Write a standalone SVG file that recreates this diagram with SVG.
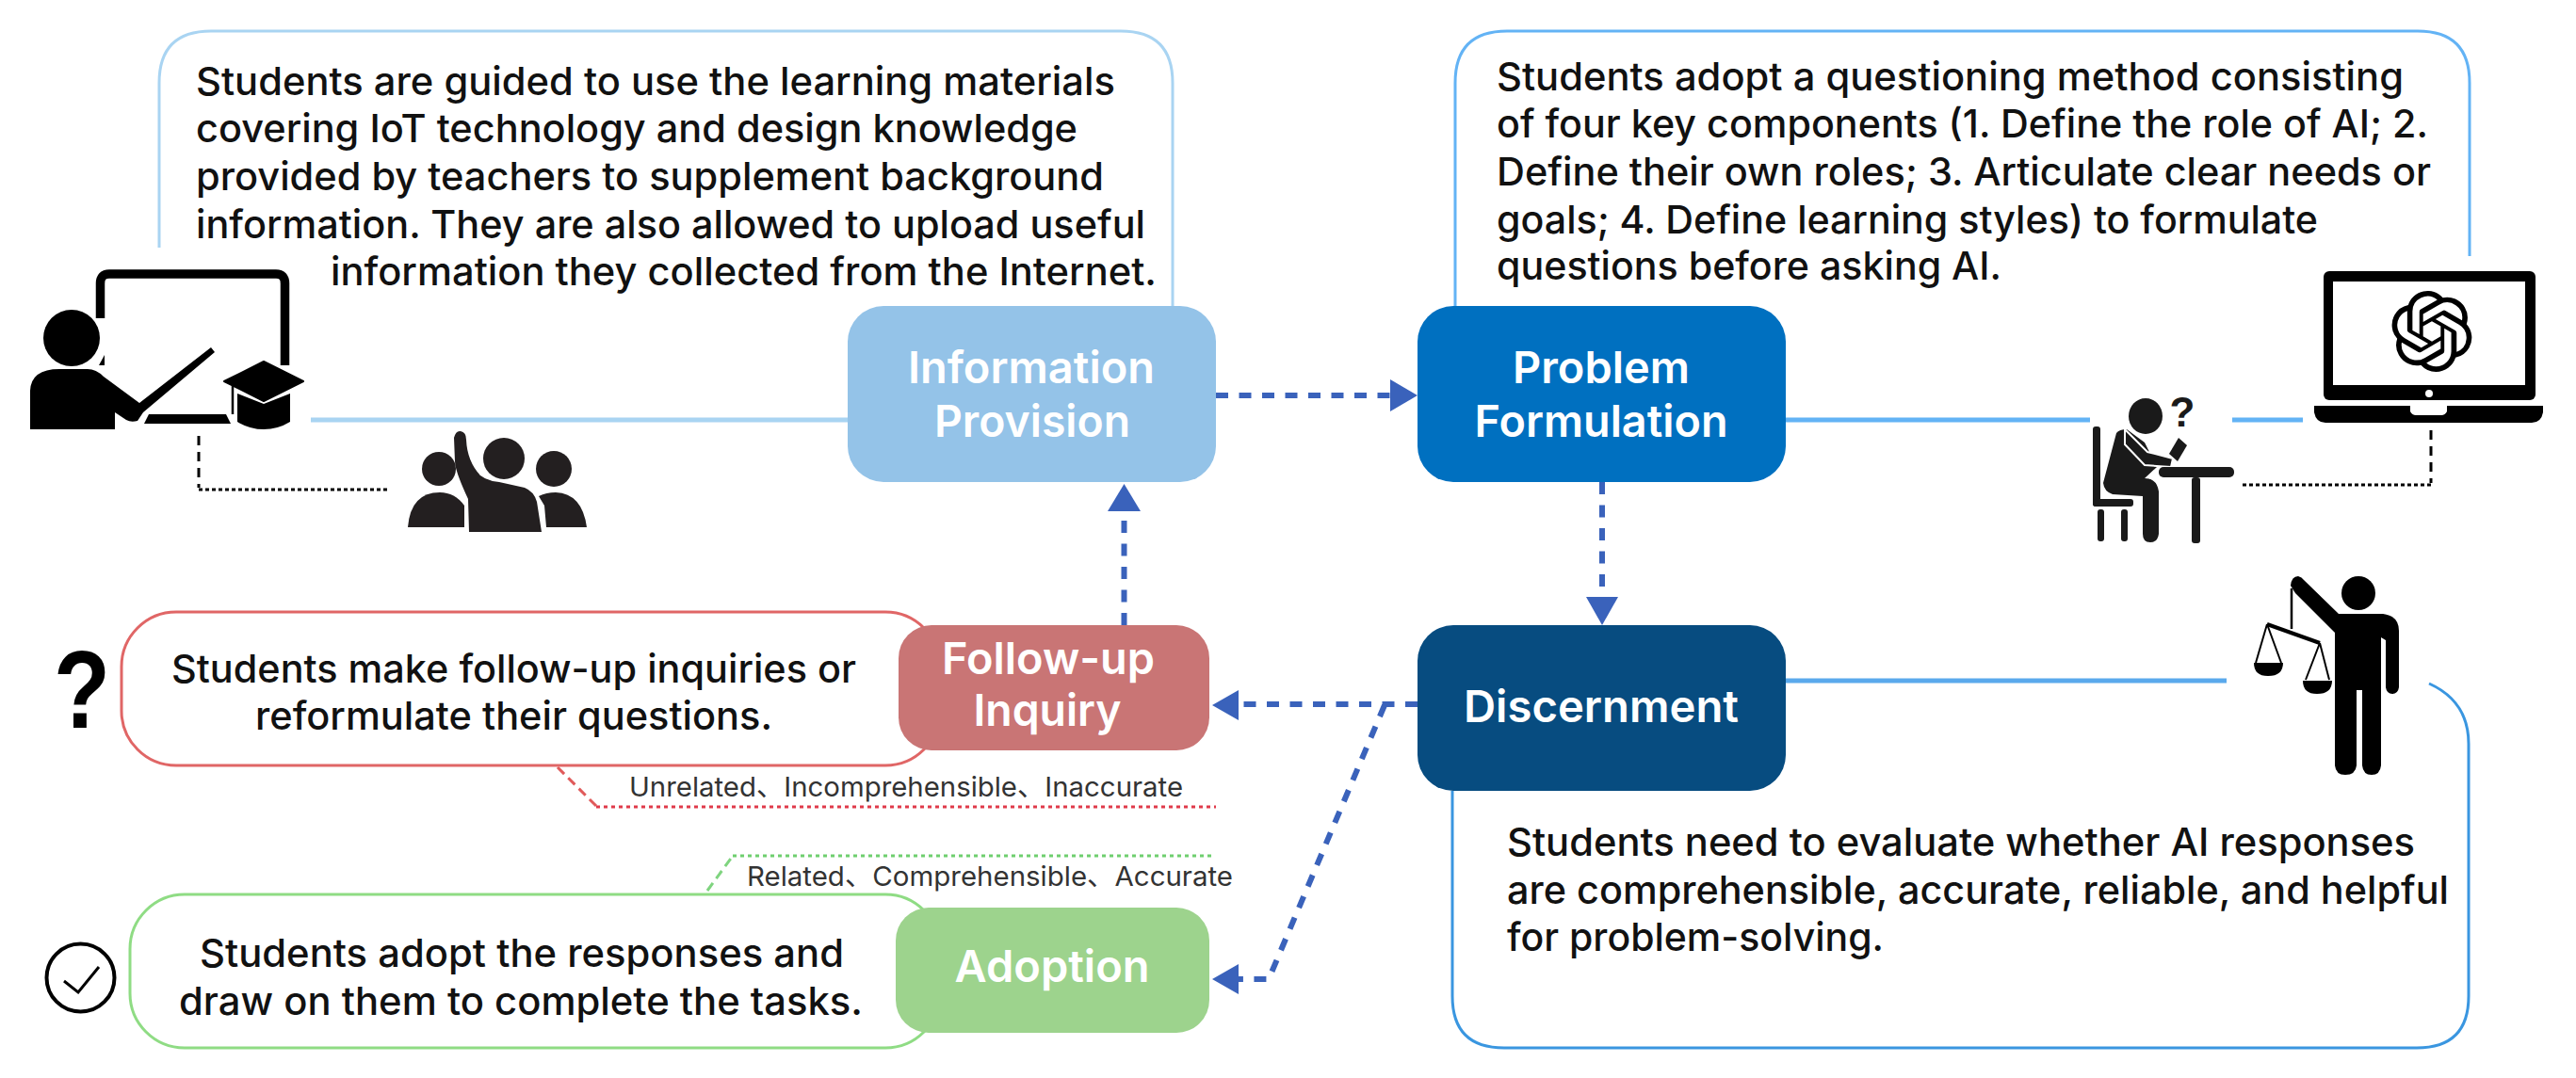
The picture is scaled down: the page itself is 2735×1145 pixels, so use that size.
<svg xmlns="http://www.w3.org/2000/svg" width="2735" height="1145" viewBox="0 0 2735 1145">
<style>
text{font-family:Inter,"Noto Sans CJK SC",sans-serif}
.b{font-size:41px;fill:#111;font-weight:500}
.n{font-size:47px;fill:#fff;font-weight:600;text-anchor:middle}
.s{font-size:29px;fill:#333}
.box{fill:none;stroke-width:3}
.lnk{fill:none;stroke-width:5}
.flow{fill:none;stroke:#3a62bb;stroke-width:6;stroke-dasharray:13 11.500}
.head{fill:#3a62bb}
.k{fill:#000}
.blk{fill:none;stroke:#000;stroke-width:3}
.dk{fill:#1a1a1a}
</style>
<rect width="2735" height="1145" fill="#fff"/>
<g id="connectors">
<path class="flow" d="M1291 420H1478"/><polygon class="head" points="1505,420 1476,403 1476,437"/>
<path class="flow" d="M1193.500 664V540"/><polygon class="head" points="1193.500,514 1176,543 1211,543"/>
<path class="flow" d="M1701 512V636"/><polygon class="head" points="1701,664 1684,634 1718,634"/>
<path class="flow" d="M1505 748H1313"/><polygon class="head" points="1287,749 1315,733 1315,765"/>
<path class="flow" d="M1470 749L1347 1040H1313"/><polygon class="head" points="1287,1040 1315,1024 1315,1056"/>
<path class="blk" style="stroke-dasharray:10 7" d="M211 463V518"/><path class="blk" style="stroke-dasharray:4 3" d="M211 520H413"/>
<path class="blk" style="stroke-dasharray:10 7" d="M2581 457V513"/><path class="blk" style="stroke-dasharray:4 3" d="M2581 515H2379"/>
<path fill="none" stroke="#e05a5a" stroke-width="3" stroke-dasharray="10 6" d="M592 815L633 856"/><path fill="none" stroke="#e03a4a" stroke-width="3" stroke-dasharray="4 4" d="M633 857H1291"/>
<path fill="none" stroke="#7fd47f" stroke-width="3" stroke-dasharray="10 6" d="M751 946L778 909"/><path fill="none" stroke="#6fcf6f" stroke-width="3" stroke-dasharray="4 4" d="M778 909H1289"/>
</g>
<g id="info-callout">
<path class="box" stroke="#a9d4f2" d="M169 263V88Q169 33 224 33H1190Q1245 33 1245 88V325"/>
<path class="lnk" stroke="#a9d4f2" d="M330 446H900"/>
<text class="b" x="208" y="101" textLength="976" lengthAdjust="spacingAndGlyphs">Students are guided to use the learning materials</text>
<text class="b" x="208" y="151" textLength="936" lengthAdjust="spacingAndGlyphs">covering IoT technology and design knowledge</text>
<text class="b" x="208" y="202" textLength="964" lengthAdjust="spacingAndGlyphs">provided by teachers to supplement background</text>
<text class="b" x="208" y="253" textLength="1008" lengthAdjust="spacingAndGlyphs">information. They are also allowed to upload useful</text>
<text class="b" x="351" y="303" textLength="877" lengthAdjust="spacingAndGlyphs">information they collected from the Internet.</text>
</g>
<g id="information-provision">
<rect x="900" y="325" width="391" height="187" rx="38" fill="#94c3e8"/>
<text class="n" x="1095" y="407" textLength="262" lengthAdjust="spacingAndGlyphs">Information</text>
<text class="n" x="1096" y="464" textLength="208" lengthAdjust="spacingAndGlyphs">Provision</text>
</g>
<g id="problem-callout">
<path class="box" stroke="#63b3f5" d="M1545 325V88Q1545 33 1600 33H2567Q2622 33 2622 88V272"/>
<path class="lnk" stroke="#63b3f5" d="M1896 446H2219M2370 446H2445"/>
<text class="b" x="1589" y="96" textLength="963" lengthAdjust="spacingAndGlyphs">Students adopt a questioning method consisting</text>
<text class="b" x="1589" y="146" textLength="989" lengthAdjust="spacingAndGlyphs">of four key components (1. Define the role of AI; 2.</text>
<text class="b" x="1589" y="197" textLength="992" lengthAdjust="spacingAndGlyphs">Define their own roles; 3. Articulate clear needs or</text>
<text class="b" x="1589" y="248" textLength="872" lengthAdjust="spacingAndGlyphs">goals; 4. Define learning styles) to formulate</text>
<text class="b" x="1589" y="297" textLength="536" lengthAdjust="spacingAndGlyphs">questions before asking AI.</text>
</g>
<g id="problem-formulation">
<rect x="1505" y="325" width="391" height="187" rx="38" fill="#0070c0"/>
<text class="n" x="1700" y="407" textLength="188" lengthAdjust="spacingAndGlyphs">Problem</text>
<text class="n" x="1700" y="464" textLength="269" lengthAdjust="spacingAndGlyphs">Formulation</text>
</g>
<g id="discernment-callout">
<path class="box" stroke="#3a96e0" d="M1542 840V1058Q1542 1113 1597 1113H2566Q2621 1113 2621 1058V790Q2621 745 2579 726"/>
<path class="lnk" stroke="#5aa9ec" d="M1896 723H2364"/>
<text class="b" x="1600" y="909" textLength="964" lengthAdjust="spacingAndGlyphs">Students need to evaluate whether AI responses</text>
<text class="b" x="1600" y="960" textLength="1000" lengthAdjust="spacingAndGlyphs">are comprehensible, accurate, reliable, and helpful</text>
<text class="b" x="1600" y="1010" textLength="400" lengthAdjust="spacingAndGlyphs">for problem-solving.</text>
</g>
<g id="discernment">
<rect x="1505" y="664" width="391" height="176" rx="38" fill="#074c80"/>
<text class="n" x="1700" y="767" textLength="292" lengthAdjust="spacingAndGlyphs">Discernment</text>
</g>
<g id="followup-callout">
<rect class="box" x="129" y="650" width="869" height="163" rx="58" fill="#fff" stroke="#e06666"/>
<text class="b" x="182" y="725" textLength="727" lengthAdjust="spacingAndGlyphs">Students make follow-up inquiries or</text>
<text class="b" x="271" y="775" textLength="549" lengthAdjust="spacingAndGlyphs">reformulate their questions.</text>
</g>
<g id="follow-up-inquiry">
<rect x="954" y="664" width="330" height="133" rx="35" fill="#c97575"/>
<text class="n" x="1113" y="716" textLength="226" lengthAdjust="spacingAndGlyphs">Follow-up</text>
<text class="n" x="1112" y="771" textLength="157" lengthAdjust="spacingAndGlyphs">Inquiry</text>
</g>
<g id="adoption-callout">
<rect class="box" x="138" y="950" width="860" height="163" rx="58" fill="#fff" stroke="#8fdc84"/>
<text class="b" x="212" y="1027" textLength="684" lengthAdjust="spacingAndGlyphs">Students adopt the responses and</text>
<text class="b" x="190" y="1078" textLength="726" lengthAdjust="spacingAndGlyphs">draw on them to complete the tasks.</text>
</g>
<g id="adoption">
<rect x="951" y="964" width="333" height="133" rx="35" fill="#9dd38d"/>
<text class="n" x="1117" y="1043" textLength="207" lengthAdjust="spacingAndGlyphs">Adoption</text>
</g>
<g id="labels">
<text class="s" x="668" y="846" textLength="588" lengthAdjust="spacingAndGlyphs">Unrelated、Incomprehensible、Inaccurate</text>
<text class="s" x="793" y="941" textLength="516" lengthAdjust="spacingAndGlyphs">Related、Comprehensible、Accurate</text>
</g>
<g id="teacher-icon">
<path fill="none" stroke="#000" stroke-width="9.500" d="M106.500 338V301Q106.500 291 116 291H293Q302.500 291 302.500 301V388"/>
<polygon class="k" points="105,388 111,377 111,388"/>
<circle class="k" cx="76" cy="359" r="30"/>
<path class="k" d="M32 456V415Q33 392 63 392H93Q102 392 110 400L148 428L224 369L228 374L152 438L146 447Q139 449 134 446L122 438V456Z"/>
<polygon class="k" points="158,440 240,440 245,450 153,450"/>
<path class="k" d="M252 418L280 429L308 418V448Q295 456 280 456Q265 456 252 448Z"/>
<polygon class="k" stroke="#000" stroke-width="2" stroke-linejoin="round" points="280,384 322,405 280,426 238,405"/>
<path fill="none" stroke="#000" stroke-width="2.500" d="M247 410V440"/>
</g>
<g id="students-icon" fill="#231f20">
<circle cx="466" cy="498" r="18"/>
<path d="M433 560Q436 523 467 523Q483 523 493 537V560Z"/>
<circle cx="535" cy="487" r="22"/>
<path d="M482 465Q484 457 489 458Q495 459 495 467Q496 490 510 505Q518 511 530 512L557 518Q567 522 570 533L575 565H498L497 530Q483 500 483 490Z"/>
<circle cx="588" cy="498" r="19"/>
<path d="M572 527Q580 523 590 523Q618 524 623 560H580L578 537Z"/>
</g>
<g id="student-ai-icon" class="dk">
<ellipse cx="2278" cy="442" rx="18" ry="19"/>
<text x="2317" y="453" font-size="44" font-weight="700" text-anchor="middle" style="font-family:'Liberation Sans',sans-serif">?</text>
<rect x="2222" y="453" width="8" height="85" rx="3"/>
<rect x="2222" y="530" width="43" height="8" rx="3"/>
<rect x="2227" y="541" width="7" height="34" rx="3"/><rect x="2252" y="541" width="7" height="34" rx="3"/>
<path d="M2247 460Q2250 456 2258 456L2277 470L2290 496L2277 508Q2290 508 2292 522V567Q2291 576 2283 576Q2275 576 2275 567V527L2243 525Q2234 522 2233 513Z"/>
<path stroke="#fff" stroke-width="2" d="M2256 456L2280 480L2307 487L2305 496L2277 494L2256 472Z"/>
<polygon points="2303,482 2313,465 2322,473 2312,490"/>
<rect x="2292" y="496" width="80" height="11" rx="5"/>
<rect x="2327" y="507" width="9" height="70" rx="3"/>
</g>
<g id="laptop-icon">
<rect class="k" x="2467" y="288" width="225" height="137" rx="6"/>
<rect x="2477" y="299" width="204" height="110" fill="#fff"/>
<circle cx="2579" cy="418" r="4" fill="#fff"/>
<path class="k" d="M2457 431H2700V438Q2698 449 2688 449H2469Q2459 449 2457 438Z"/>
<path d="M2559 431H2598V437Q2596 441 2592 441H2565Q2561 441 2559 437Z" fill="#fff"/>
<path class="k" transform="translate(2539 309) scale(3.580)" d="M22.2819 9.8211a5.9847 5.9847 0 0 0-.5157-4.9108 6.0462 6.0462 0 0 0-6.5098-2.9A6.0651 6.0651 0 0 0 4.9807 4.1818a5.9847 5.9847 0 0 0-3.9977 2.9 6.0462 6.0462 0 0 0 .7427 7.0966 5.98 5.98 0 0 0 .511 4.9107 6.051 6.051 0 0 0 6.5146 2.9001A5.9847 5.9847 0 0 0 13.2599 24a6.0557 6.0557 0 0 0 5.7718-4.2058 5.9894 5.9894 0 0 0 3.9977-2.9001 6.0557 6.0557 0 0 0-.7475-7.0729zm-9.022 12.6081a4.4755 4.4755 0 0 1-2.8764-1.0408l.1419-.0804 4.7783-2.7582a.7948.7948 0 0 0 .3927-.6813v-6.7369l2.02 1.1686a.071.071 0 0 1 .038.052v5.5826a4.504 4.504 0 0 1-4.4945 4.4944zm-9.6607-4.1254a4.4708 4.4708 0 0 1-.5346-3.0137l.142.0852 4.783 2.7582a.7712.7712 0 0 0 .7806 0l5.8428-3.3685v2.3324a.0804.0804 0 0 1-.0332.0615L9.74 19.9502a4.4992 4.4992 0 0 1-6.1408-1.6464zM2.3408 7.8956a4.485 4.485 0 0 1 2.3655-1.9728V11.6a.7664.7664 0 0 0 .3879.6765l5.8144 3.3543-2.0201 1.1685a.0757.0757 0 0 1-.071 0l-4.8303-2.7865A4.504 4.504 0 0 1 2.3408 7.872zm16.5963 3.8558L13.1038 8.364 15.1192 7.2a.0757.0757 0 0 1 .071 0l4.8303 2.7913a4.4944 4.4944 0 0 1-.6765 8.1042v-5.6772a.79.79 0 0 0-.407-.667zm2.0107-3.0231l-.142-.0852-4.7735-2.7818a.7759.7759 0 0 0-.7854 0L9.409 9.2297V6.8974a.0662.0662 0 0 1 .0284-.0615l4.8303-2.7866a4.4992 4.4992 0 0 1 6.6802 4.66zM8.3065 12.863l-2.02-1.1638a.0804.0804 0 0 1-.038-.0567V6.0742a4.4992 4.4992 0 0 1 7.3757-3.4537l-.142.0805L8.704 5.459a.7948.7948 0 0 0-.3927.6813zm1.0976-2.3654l2.602-1.4998 2.6069 1.4998v2.9994l-2.5974 1.4997-2.6067-1.4997Z"/>
</g>
<g id="judge-icon">
<circle class="k" cx="2504" cy="630" r="18"/>
<path class="k" d="M2432 622Q2433 612 2440 612Q2444 613 2446 616L2483 652H2530Q2547 654 2547 670V730Q2546 737 2540 737Q2534 737 2533 730V680L2528 677V813Q2527 823 2518 823Q2509 823 2508 813V733H2502V813Q2501 823 2490 823Q2480 823 2479 813V672L2437 630Z"/>
<g fill="none" stroke="#000">
<path stroke-width="2.500" d="M2433 625V668"/>
<path stroke-width="4" d="M2407 663L2463 683"/>
<path stroke-width="2" d="M2407 663L2395 704M2407 663L2422 704M2463 683L2448 722M2463 683L2473 722"/>
</g>
<path class="k" d="M2393 704H2424Q2424 718 2408 718Q2393 718 2393 704Z"/>
<path class="k" d="M2445 723H2476Q2476 737 2460 737Q2445 737 2445 723Z"/>
</g>
<g id="question-icon"><text x="87" y="773" font-size="116" font-weight="700" text-anchor="middle" textLength="60" lengthAdjust="spacingAndGlyphs" style="font-family:'Liberation Sans',sans-serif">?</text></g>
<g id="check-icon" fill="none" stroke="#000"><circle cx="85.500" cy="1038.500" r="36" stroke-width="4"/><path stroke-width="3" d="M68 1042L83 1054L105 1027"/></g>
</svg>
